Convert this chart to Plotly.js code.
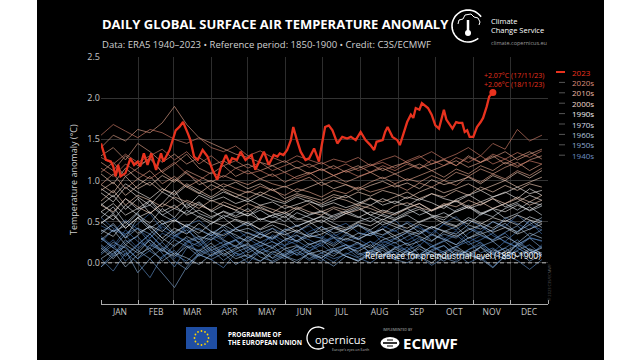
<!DOCTYPE html>
<html><head><meta charset="utf-8">
<script src="https://cdn.plot.ly/plotly-3.0.1.min.js"></script>
<style>html,body{margin:0;padding:0;background:#fff;width:640px;height:360px;overflow:hidden}
#chart{position:absolute;left:37px;top:0;width:567px;height:360px;}</style>
</head><body><div id="chart"></div><script>
// ---- data ----
const months = ['JAN','FEB','MAR','APR','MAY','JUN','JUL','AUG','SEP','OCT','NOV','DEC'];
const monthStarts = [1,32,60,91,121,152,182,213,244,274,305,335,366];
const yTicks = [0,0.5,1,1.5,2,2.5];
const yTickText = ['0.0','0.5','1.0','1.5','2.0','2.5'];
const days10 = [1,11,21,31,41,51,61,71,81,91,101,111,121,131,141,151,161,171,181,191,201,211,221,231,241,251,261,271,281,291,301,311,321,331,341,351,361];

const y1940s = [
 [0.45,0.38,0.52,0.41,0.30,0.47,0.55,0.36,0.42,0.33,0.40,0.28,0.37,0.31,0.42,0.35,0.26,0.38,0.44,0.32,0.39,0.47,0.35,0.41,0.52,0.38,0.45,0.33,0.48,0.56,0.42,0.37,0.50,0.44,0.58,0.46,0.40],
 [0.15,0.28,0.10,0.22,0.35,0.18,0.05,0.24,0.30,0.12,0.20,0.27,0.16,0.25,0.19,0.28,0.22,0.14,0.26,0.31,0.18,0.23,0.12,0.27,0.20,0.15,0.29,0.22,0.10,0.18,0.31,0.24,0.13,0.26,0.19,0.08,0.22],
 [0.32,0.20,0.40,0.26,0.18,0.36,0.29,0.44,0.22,0.34,0.27,0.19,0.30,0.38,0.25,0.21,0.33,0.28,0.20,0.35,0.26,0.31,0.40,0.24,0.30,0.37,0.21,0.34,0.28,0.39,0.25,0.33,0.27,0.36,0.22,0.31,0.26],
 [0.25,0.40,0.33,0.18,0.30,0.44,0.36,0.22,0.15,0.28,0.35,0.42,0.30,0.20,0.34,0.26,0.38,0.45,0.32,0.24,0.36,0.29,0.20,0.33,0.40,0.27,0.35,0.42,0.30,0.22,0.36,0.45,0.33,0.26,0.38,0.50,0.35],
 [0.55,0.42,0.35,0.48,0.60,0.40,0.32,0.45,0.52,0.38,0.30,0.42,0.48,0.35,0.28,0.40,0.46,0.34,0.30,0.42,0.48,0.37,0.33,0.45,0.38,0.50,0.42,0.36,0.47,0.40,0.52,0.45,0.38,0.55,0.48,0.40,0.52]];
const y1950s = [
 [0.10,0.22,0.02,0.16,0.28,0.12,-0.05,0.18,0.25,0.08,0.15,0.21,0.06,0.17,0.12,0.20,0.09,0.14,0.22,0.11,0.18,0.07,0.15,0.23,0.10,0.19,0.05,0.14,0.21,0.08,0.16,0.25,0.12,0.04,0.18,0.10,0.20],
 [0.30,0.18,0.35,0.42,0.24,0.15,0.33,0.26,0.20,0.31,0.22,0.28,0.19,0.25,0.32,0.21,0.27,0.18,0.24,0.30,0.22,0.17,0.26,0.20,0.29,0.23,0.31,0.19,0.26,0.34,0.22,0.28,0.36,0.25,0.19,0.30,0.27],
 [0.05,-0.10,0.12,0.00,-0.18,0.08,0.15,-0.02,0.10,0.04,-0.06,0.12,0.07,0.02,0.11,0.05,0.13,0.03,0.09,0.01,0.12,0.06,0.00,0.10,0.14,0.04,0.08,-0.03,0.06,0.11,0.00,0.07,-0.05,0.09,0.03,-0.08,0.04],
 [0.20,0.08,0.25,0.32,0.14,0.05,0.22,0.30,0.10,0.18,0.26,0.08,0.15,0.22,0.05,0.12,0.19,0.10,0.02,0.15,0.22,0.12,0.06,0.18,0.25,0.14,0.09,0.20,0.13,0.03,0.16,0.22,0.10,0.18,0.28,0.15,0.08],
 [-0.05,0.12,0.20,0.05,0.15,0.25,0.10,0.02,0.16,0.08,0.20,0.12,0.00,0.14,0.22,0.08,0.15,0.24,0.12,0.05,0.10,0.18,0.26,0.10,0.04,0.15,0.22,0.08,0.14,0.20,0.26,0.12,0.18,0.08,0.15,0.22,0.10]];
const y1960s = [
 [0.22,0.10,0.28,0.15,0.05,-0.12,-0.30,-0.05,0.12,0.20,0.08,0.16,0.24,0.11,0.18,0.09,0.20,0.14,0.06,0.17,0.22,0.10,0.15,0.08,0.19,0.12,0.05,0.16,0.21,0.09,0.14,0.03,0.12,0.18,0.07,0.15,0.10],
 [0.38,0.46,0.30,0.42,0.35,0.48,0.33,0.40,0.28,0.36,0.44,0.31,0.27,0.35,0.29,0.38,0.25,0.33,0.30,0.22,0.34,0.28,0.36,0.31,0.24,0.32,0.39,0.27,0.35,0.30,0.42,0.34,0.28,0.37,0.45,0.32,0.40],
 [0.12,0.25,0.18,0.05,0.22,0.14,0.28,0.20,0.08,0.16,0.03,0.13,0.19,0.07,0.02,0.10,0.16,0.05,0.12,0.18,0.08,0.03,0.14,0.20,0.06,0.11,0.17,0.09,0.02,0.13,0.07,0.19,0.10,0.05,0.24,0.16,0.08],
 [0.30,0.18,0.08,0.22,0.35,0.20,0.10,0.26,0.32,0.15,0.22,0.28,0.12,0.20,0.26,0.16,0.10,0.22,0.28,0.14,0.18,0.25,0.12,0.06,0.18,0.24,0.10,0.20,0.27,0.15,0.08,0.20,0.26,0.14,0.22,0.30,0.18],
 [-0.05,0.08,0.15,-0.12,0.05,0.18,0.02,-0.08,0.10,0.04,0.12,-0.02,0.06,0.14,0.00,0.08,0.03,0.11,0.05,-0.04,0.08,0.02,0.10,0.15,0.04,0.00,0.09,0.14,0.06,0.01,0.10,0.05,-0.06,0.08,0.14,0.02,0.10]];
const y1970s = [
 [0.35,0.48,0.30,0.55,0.40,0.26,0.38,0.45,0.32,0.28,0.40,0.34,0.25,0.36,0.42,0.30,0.27,0.35,0.39,0.31,0.28,0.36,0.33,0.41,0.29,0.37,0.32,0.26,0.38,0.44,0.30,0.35,0.40,0.48,0.36,0.52,0.43],
 [0.18,0.05,0.22,0.12,0.28,0.15,0.08,0.20,0.14,0.24,0.10,0.18,0.22,0.13,0.06,0.17,0.21,0.11,0.15,0.08,0.19,0.14,0.22,0.10,0.17,0.09,0.20,0.13,0.06,0.16,0.11,0.19,0.05,0.14,0.08,0.17,0.12],
 [0.50,0.38,0.45,0.60,0.42,0.52,0.36,0.47,0.40,0.33,0.46,0.38,0.42,0.35,0.30,0.41,0.37,0.32,0.44,0.36,0.40,0.45,0.38,0.34,0.42,0.48,0.37,0.44,0.39,0.35,0.46,0.41,0.50,0.43,0.38,0.47,0.55],
 [0.28,0.40,0.22,0.34,0.45,0.30,0.20,0.32,0.25,0.38,0.28,0.20,0.32,0.25,0.18,0.28,0.34,0.22,0.27,0.20,0.30,0.24,0.18,0.28,0.33,0.21,0.26,0.35,0.28,0.22,0.30,0.38,0.26,0.32,0.24,0.36,0.30],
 [0.05,0.15,-0.05,0.10,0.18,0.02,0.12,0.06,-0.02,0.10,0.16,0.05,0.10,0.02,0.14,0.08,0.00,0.12,0.06,0.15,0.08,0.02,0.12,0.18,0.06,0.14,0.08,0.00,0.12,0.20,0.10,0.04,0.16,0.10,0.22,0.12,0.18]];
const y1980s = [
 [0.55,0.68,0.48,0.62,0.75,0.58,0.50,0.64,0.55,0.47,0.58,0.52,0.45,0.54,0.49,0.57,0.44,0.51,0.56,0.48,0.42,0.50,0.55,0.46,0.52,0.58,0.49,0.55,0.61,0.53,0.47,0.59,0.65,0.54,0.60,0.68,0.58],
 [0.40,0.32,0.50,0.36,0.44,0.30,0.42,0.35,0.48,0.38,0.33,0.41,0.36,0.30,0.38,0.34,0.40,0.31,0.35,0.42,0.37,0.29,0.36,0.41,0.33,0.39,0.35,0.44,0.38,0.32,0.40,0.46,0.37,0.43,0.35,0.41,0.47],
 [0.62,0.52,0.70,0.58,0.48,0.66,0.55,0.72,0.60,0.54,0.63,0.57,0.66,0.52,0.58,0.50,0.61,0.55,0.49,0.58,0.63,0.56,0.50,0.59,0.54,0.62,0.68,0.57,0.52,0.64,0.70,0.61,0.56,0.66,0.72,0.63,0.69],
 [0.48,0.60,0.42,0.55,0.45,0.38,0.52,0.44,0.36,0.48,0.55,0.42,0.50,0.40,0.46,0.38,0.45,0.50,0.40,0.44,0.36,0.46,0.40,0.50,0.44,0.38,0.47,0.42,0.50,0.45,0.55,0.48,0.42,0.52,0.46,0.56,0.50],
 [0.72,0.60,0.78,0.65,0.70,0.58,0.66,0.60,0.72,0.64,0.55,0.62,0.57,0.64,0.55,0.60,0.52,0.58,0.62,0.54,0.60,0.66,0.58,0.52,0.60,0.66,0.58,0.64,0.70,0.62,0.68,0.58,0.66,0.72,0.64,0.74,0.70]];
const y1990s = [
 [0.70,0.82,0.65,0.78,0.60,0.72,0.88,0.66,0.74,0.62,0.70,0.64,0.57,0.68,0.61,0.55,0.66,0.59,0.63,0.56,0.62,0.68,0.58,0.64,0.60,0.67,0.72,0.63,0.69,0.75,0.66,0.71,0.78,0.68,0.74,0.82,0.76],
 [0.48,0.58,0.42,0.55,0.62,0.47,0.52,0.44,0.57,0.50,0.45,0.53,0.48,0.41,0.50,0.46,0.38,0.47,0.52,0.44,0.40,0.49,0.45,0.53,0.47,0.42,0.50,0.56,0.48,0.44,0.52,0.47,0.55,0.50,0.58,0.52,0.48],
 [0.85,0.74,0.92,0.80,0.70,0.86,0.78,0.68,0.82,0.75,0.80,0.72,0.77,0.70,0.74,0.66,0.71,0.76,0.68,0.73,0.67,0.72,0.79,0.70,0.75,0.69,0.78,0.73,0.66,0.77,0.83,0.74,0.80,0.86,0.78,0.90,0.82],
 [0.62,0.72,0.58,0.66,0.76,0.62,0.70,0.58,0.64,0.56,0.62,0.55,0.60,0.52,0.58,0.62,0.54,0.50,0.57,0.52,0.60,0.55,0.62,0.57,0.52,0.60,0.65,0.58,0.55,0.62,0.68,0.60,0.66,0.62,0.70,0.64,0.72],
 [0.90,0.80,0.96,0.86,0.78,0.90,0.82,0.94,0.85,0.78,0.86,0.80,0.74,0.82,0.76,0.72,0.80,0.74,0.70,0.76,0.82,0.74,0.70,0.78,0.72,0.80,0.76,0.84,0.78,0.74,0.82,0.88,0.80,0.85,0.92,0.84,0.88]];
const y2000s = [
 [0.95,0.85,1.05,0.90,0.98,0.86,1.02,0.92,0.84,0.95,0.88,0.80,0.87,0.82,0.90,0.78,0.84,0.80,0.76,0.83,0.79,0.86,0.81,0.88,0.84,0.78,0.86,0.92,0.85,0.90,0.96,0.88,0.94,1.00,0.92,0.98,1.04],
 [0.75,0.88,0.70,0.82,0.76,0.68,0.80,0.74,0.66,0.76,0.70,0.64,0.72,0.66,0.61,0.70,0.65,0.72,0.62,0.68,0.64,0.70,0.66,0.60,0.69,0.73,0.67,0.63,0.72,0.68,0.76,0.70,0.78,0.72,0.80,0.74,0.82],
 [1.08,0.96,1.15,1.02,0.94,1.06,0.98,1.10,0.95,1.00,0.92,0.98,0.90,0.96,0.88,0.93,0.86,0.92,0.98,0.90,0.95,0.88,0.94,0.99,0.92,0.97,0.90,1.01,0.95,0.99,1.04,0.96,1.06,1.00,1.10,1.03,1.12],
 [0.88,0.98,0.82,0.94,1.05,0.90,0.84,0.96,0.88,0.80,0.90,0.84,0.78,0.86,0.80,0.74,0.82,0.78,0.72,0.80,0.76,0.70,0.78,0.74,0.80,0.86,0.78,0.84,0.80,0.88,0.82,0.92,0.86,0.94,0.88,0.96,0.92],
 [0.70,0.62,0.78,0.68,0.60,0.72,0.66,0.76,0.70,0.64,0.74,0.68,0.62,0.70,0.65,0.60,0.68,0.62,0.58,0.66,0.60,0.64,0.70,0.62,0.58,0.66,0.72,0.64,0.70,0.76,0.68,0.74,0.66,0.72,0.78,0.70,0.76]];
const y2010s = [
 [1.40,1.55,1.48,1.62,1.58,1.70,1.90,1.68,1.52,1.45,1.38,1.32,1.28,1.22,1.18,1.24,1.15,1.20,1.12,1.18,1.10,1.15,1.20,1.12,1.18,1.22,1.15,1.20,1.25,1.18,1.30,1.22,1.28,1.35,1.25,1.32,1.38],
 [0.95,1.08,0.90,1.02,1.12,0.96,1.05,0.92,1.00,0.88,0.96,0.90,0.85,0.93,0.88,0.82,0.90,0.86,0.80,0.88,0.84,0.92,0.86,0.90,0.95,0.88,0.97,0.92,1.00,0.94,1.05,0.98,1.08,1.02,1.12,1.06,1.15],
 [1.22,1.12,1.30,1.18,1.26,1.10,1.20,1.32,1.15,1.08,1.18,1.05,1.12,1.02,1.08,0.98,1.05,1.10,1.00,1.06,0.98,1.04,1.10,1.02,1.08,1.00,1.06,1.12,1.04,1.14,1.08,1.18,1.12,1.22,1.16,1.25,1.30],
 [1.10,1.22,1.05,1.15,1.28,1.10,1.00,1.12,1.05,0.98,1.06,1.00,0.95,1.02,0.96,0.92,0.98,1.04,0.94,1.00,0.95,0.90,0.98,1.04,0.96,1.02,0.98,1.06,1.00,1.10,1.05,1.14,1.08,1.16,1.22,1.12,1.20],
 [1.30,1.40,1.25,1.45,1.35,1.22,1.32,1.20,1.28,1.18,1.24,1.15,1.20,1.12,1.18,1.10,1.16,1.08,1.14,1.06,1.12,1.18,1.10,1.15,1.08,1.14,1.20,1.12,1.18,1.24,1.16,1.22,1.30,1.20,1.28,1.35,1.26]];
const y2020s = [
 [1.55,1.68,1.60,1.52,1.62,1.58,1.50,1.45,1.52,1.40,1.35,1.42,1.30,1.36,1.28,1.22,1.30,1.25,1.20,1.26,1.22,1.28,1.18,1.25,1.30,1.22,1.28,1.35,1.26,1.32,1.40,1.30,1.45,1.38,1.62,1.48,1.55],
 [1.15,1.05,1.20,1.10,1.02,1.12,1.22,1.08,1.00,1.10,1.04,1.15,1.08,1.12,1.05,1.10,1.02,1.08,1.14,1.06,1.12,1.05,1.10,1.18,1.12,1.20,1.14,1.25,1.18,1.28,1.22,1.30,1.20,1.26,1.18,1.24,1.20],
 [1.28,1.20,1.32,1.22,1.30,1.38,1.25,1.35,1.20,1.30,1.18,1.24,1.15,1.22,1.12,1.18,1.24,1.16,1.22,1.14,1.20,1.12,1.18,1.22,1.15,1.24,1.30,1.20,1.26,1.18,1.28,1.22,1.32,1.26,1.34,1.28,1.36]];

const days2023 = [1,5,9,11,13,15,17,21,25,28,31,33,36,39,42,46,50,52,57,59,62,65,68,72,74,77,80,84,88,92,96,99,103,106,108,112,115,119,122,124,127,130,134,138,142,145,147,150,153,156,158,161,164,168,171,175,179,181,184,187,190,194,198,202,205,209,213,217,221,224,226,231,233,235,239,243,245,248,251,254,256,258,261,263,265,268,271,274,277,281,283,285,288,291,293,296,298,300,302,305,308,311,313,316,318,321,322];
const temp2023 = [1.45,1.25,1.23,1.17,1.05,1.19,1.05,1.09,1.27,1.19,1.23,1.17,1.33,1.19,1.33,1.13,1.33,1.23,1.37,1.47,1.61,1.65,1.71,1.57,1.49,1.29,1.25,1.37,1.29,1.13,1.01,1.17,1.31,1.21,1.27,1.25,1.35,1.25,1.29,1.31,1.13,1.23,1.35,1.19,1.31,1.29,1.33,1.31,1.37,1.49,1.65,1.49,1.35,1.25,1.27,1.39,1.23,1.41,1.65,1.67,1.61,1.45,1.53,1.51,1.53,1.49,1.59,1.49,1.43,1.37,1.47,1.49,1.59,1.65,1.53,1.49,1.43,1.57,1.71,1.80,1.76,1.88,1.86,1.94,1.92,1.88,1.80,1.67,1.63,1.86,1.74,1.70,1.63,1.71,1.70,1.70,1.59,1.61,1.53,1.53,1.65,1.71,1.76,1.90,2.02,2.07,2.06];

const decadeNames = ['1940s','1950s','1960s','1970s','1980s','1990s','2000s','2010s','2020s'];
const decadeData = [y1940s,y1950s,y1960s,y1970s,y1980s,y1990s,y2000s,y2010s,y2020s];
const decadeColors = ['#4270ad','#5a88c0','#7ea4cf','#a9c1da','#cfd8e2','#ebe7e3','#ecc8b4','#dd9f88','#cf7c68'];
const legendNames = ['2023','2020s','2010s','2000s','1990s','1970s','1960s','1950s','1940s'];
const legendColors = ['#e8321e','#d98b7a','#e8b7a6','#efd9cc','#f2f2f2','#d6dde6','#b3c6dd','#8eaad2','#6b8dc2'];

// ---- helpers (absolute page px -> paper coords) ----
const PL=101, PW=447, PT=57, PH=247;
const px = X => (X-PL)/PW;
const py = Y => (PT+PH-Y)/PH;
const FONT = 'Open Sans, Lato, sans-serif';

const traces = [];
decadeData.forEach((lines,i)=>{
  lines.forEach(v=>{
    traces.push({type:'scatter',mode:'lines',x:days10,y:v,
      line:{color:decadeColors[i],width:1},opacity:0.65,hoverinfo:'skip',showlegend:false,name:decadeNames[i]});
  });
});
traces.push({type:'scatter',mode:'lines',x:days2023,y:temp2023,line:{color:'#e8321e',width:2.3},showlegend:false,name:'2023'});
traces.push({type:'scatter',mode:'markers',x:[days2023[days2023.length-2]],y:[temp2023[temp2023.length-2]],
  marker:{color:'#e8321e',size:7},showlegend:false,hoverinfo:'skip'});

const monthMids = months.map((m,i)=>(monthStarts[i]+monthStarts[i+1])/2);

const shapes = [
  {type:'line',xref:'x',yref:'y',x0:1,x1:366,y0:0,y1:0,line:{color:'#bbbbbb',width:1,dash:'4px,3px'}},
];
const annotations = [];
function txt(X,Y,text,size,color,opts){
  annotations.push(Object.assign({xref:'paper',yref:'paper',x:px(X),y:py(Y),text:text,showarrow:false,
    xanchor:'left',yanchor:'middle',font:{family:FONT,size:size,color:color}},opts||{}));
}
// titles
txt(100,24,'<b>DAILY GLOBAL SURFACE AIR TEMPERATURE ANOMALY</b>',13,'#ffffff');
txt(100,44,'Data: ERA5 1940–2023 • Reference period: 1850-1900 • Credit: C3S/ECMWF',9.5,'#d0d0d0');
// y title
txt(73,180,'Temperature anomaly (°C)',9,'#cfcfcf',{xanchor:'center',textangle:-90});
// reference text
txt(543,255,'Reference for preindustrial level (1850-1900)',8.5,'#ffffff',{xanchor:'right'});
// record labels
txt(482,75,'+2.07°C (17/11/23)',7,'#e8321e');
txt(482,84,'+2.06°C (18/11/23)',7,'#e8321e');
// legend
legendNames.forEach((n,i)=>{
  const Y = 72 + i*10.4;
  if(i===0){
    shapes.push({type:'line',xref:'paper',yref:'paper',x0:px(556),x1:px(565),y0:py(Y),y1:py(Y),line:{color:'#e8321e',width:2}});
  } else {
    shapes.push({type:'line',xref:'paper',yref:'paper',x0:px(559),x1:px(565),y0:py(Y),y1:py(Y),line:{color:'#555555',width:1}});
  }
  txt(570,Y,n,8,legendColors[i]);
});
// copyright tiny
txt(549,283,'© 2023 C3S/ECMWF',4,'#555555',{xanchor:'center',textangle:-90});

// CCS logo (arc + thermometer + cloud)
function polyPath(cx,cy,pts){ return pts.map((p,i)=>(i?'L':'M')+p[0].toFixed(1)+','+p[1].toFixed(1)).join(' '); }
function arcPts(r,a0,a1,n){const p=[];for(let k=0;k<=n;k++){const a=(a0+(a1-a0)*k/n)*Math.PI/180;p.push([r*Math.cos(a),r*Math.sin(a)]);}return p;}
function pixShape(X,Y,path,line,fill){
  return {type:'path',xref:'paper',yref:'paper',xsizemode:'pixel',ysizemode:'pixel',xanchor:px(X),yanchor:py(Y),
    path:path,line:line,fillcolor:fill||'rgba(0,0,0,0)'};
}
shapes.push(pixShape(468,26,polyPath(0,0,arcPts(16,35,310,40)),{color:'#ffffff',width:1.6}));
shapes.push(pixShape(468,26,polyPath(0,0,[[-10,2],[-9,6],[-5,7],[-3,11],[3,12],[6,9],[10,8],[12,4],[11,1]]),{color:'#ffffff',width:1}));
shapes.push(pixShape(468,26,'M0,6 L0,-6',{color:'#ffffff',width:2.5}));
shapes.push({type:'circle',xref:'paper',yref:'paper',xsizemode:'pixel',ysizemode:'pixel',xanchor:px(468),yanchor:py(33),
  x0:-3,x1:3,y0:-3,y1:3,fillcolor:'#ffffff',line:{width:0}});
txt(489,21,'Climate',7.5,'#ffffff');
txt(489,30,'Change Service',7.5,'#ffffff');
txt(489,43,'climate.copernicus.eu',5.5,'#9a9a9a');

// bottom logos
shapes.push({type:'rect',xref:'paper',yref:'paper',x0:px(186),x1:px(217),y0:py(327),y1:py(349),fillcolor:'#1f4ea3',line:{width:0}});
for(let k=0;k<12;k++){
  const a=k*30*Math.PI/180;
  shapes.push({type:'circle',xref:'paper',yref:'paper',xsizemode:'pixel',ysizemode:'pixel',xanchor:px(201.5+7*Math.cos(a)),yanchor:py(338+7*Math.sin(a)),
    x0:-0.9,x1:0.9,y0:-0.9,y1:0.9,fillcolor:'#ffd500',line:{width:0}});
}
txt(226,334,'<b>PROGRAMME OF</b>',6.5,'#ffffff');
txt(226,342,'<b>THE EUROPEAN UNION</b>',6.5,'#ffffff');
shapes.push(pixShape(318,338,polyPath(0,0,arcPts(11,55,305,30)),{color:'#ffffff',width:1.3}));
txt(313,339,'opernicus',11,'#ffffff');
txt(330,349,"Europe's eyes on Earth",3.5,'#bbbbbb');
txt(381,330,'IMPLEMENTED BY',3.5,'#bbbbbb');
shapes.push({type:'circle',xref:'paper',yref:'paper',xsizemode:'pixel',ysizemode:'pixel',xanchor:px(390),yanchor:py(343),
  x0:-9.5,x1:9.5,y0:-6,y1:6,fillcolor:'#ffffff',line:{width:0}});
shapes.push(pixShape(390,343,'M-7,0 L7,0',{color:'#000000',width:1.6}));
shapes.push(pixShape(390,343,'M-3,3 L3,3 M-3,-3 L3,-3',{color:'#000000',width:1.2}));
txt(401,343,'<b>ECMWF</b>',15,'#ffffff');

const layout = {
  width:567,height:360,
  paper_bgcolor:'#000000',plot_bgcolor:'#000000',
  margin:{l:64,r:56,t:57,b:56},
  font:{family:FONT,color:'#bbbbbb'},
  showlegend:false,
  xaxis:{range:[1,366],tickmode:'array',tickvals:monthMids,ticktext:months,ticks:'',showgrid:false,zeroline:false,
    showline:true,linecolor:'#aaaaaa',linewidth:1,tickfont:{size:8.5,color:'#c4c4c4',family:FONT},
    minor:{tickmode:'array',tickvals:monthStarts,ticks:'inside',ticklen:4,tickcolor:'#aaaaaa',tickwidth:1,showgrid:true,gridcolor:'#2d2d2d',gridwidth:1},
    fixedrange:true},
  yaxis:{range:[-0.5,2.5],tickmode:'array',tickvals:yTicks,ticktext:yTickText,ticks:'',showgrid:true,gridcolor:'#333333',gridwidth:1,
    zeroline:false,showline:false,tickfont:{size:9,color:'#c4c4c4',family:FONT},fixedrange:true},
  shapes:shapes,annotations:annotations
};
Plotly.newPlot('chart',traces,layout,{displayModeBar:false,staticPlot:true});
</script></body></html>
